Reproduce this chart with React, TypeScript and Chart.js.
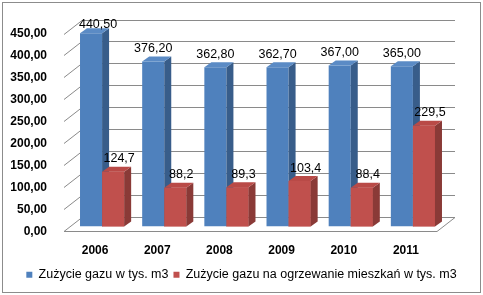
import React, { useEffect, useRef } from "react";
import { Chart, registerables } from "chart.js";

Chart.register(...registerables);

// ---- data ----
const years = ["2006", "2007", "2008", "2009", "2010", "2011"];
const gasTotal = [440.5, 376.2, 362.8, 362.7, 367.0, 365.0];
const gasHeating = [124.7, 88.2, 89.3, 103.4, 88.4, 229.5];
const seriesNames = [
  "Zużycie gazu w tys. m3",
  "Zużycie gazu na ogrzewanie mieszkań w tys. m3",
];
const yMin = 0;
const yMax = 450;
const yStep = 50;
const labelDecimals = [2, 1];

// ---- styles ----
const FONT = "'Liberation Sans', Arial, sans-serif";
const frontColors = ["#4F81BD", "#C0504D"];
const sideColors = ["#385D8A", "#8A3A37"];
const topColors = ["#5B8BC5", "#B94A47"];
const labelShiftX = [0, 6];
const GRID = "#8a8a8a";
const BACK = { x: 11, y: -9.5 };
const FRONT = { x: -7, y: 4.5 };
const DEPTH = { x: 7, y: -5 };

const fmt = (v: number, d: number) => Number(v).toFixed(d).replace(".", ",");

function drawFaces(ctx: any, el: any, i: number) {
  const { x, y, base, width } = el.getProps(["x", "y", "base", "width"], true);
  const l = x - width / 2;
  const r = x + width / 2;
  ctx.fillStyle = sideColors[i];
  ctx.beginPath();
  ctx.moveTo(r, y);
  ctx.lineTo(r + DEPTH.x, y + DEPTH.y);
  ctx.lineTo(r + DEPTH.x, base + DEPTH.y);
  ctx.lineTo(r, base);
  ctx.closePath();
  ctx.fill();
  ctx.fillStyle = topColors[i];
  ctx.beginPath();
  ctx.moveTo(l, y);
  ctx.lineTo(l + DEPTH.x, y + DEPTH.y);
  ctx.lineTo(r + DEPTH.x, y + DEPTH.y);
  ctx.lineTo(r, y);
  ctx.closePath();
  ctx.fill();
}

const pseudo3d = {
  id: "pseudo3d",
  beforeDraw(chart: any) {
    const { ctx, width, height } = chart;
    ctx.save();
    ctx.fillStyle = "#ffffff";
    ctx.fillRect(0, 0, width, height);
    ctx.strokeStyle = "#8c8c8c";
    ctx.lineWidth = 1;
    ctx.strokeRect(2.5, 2.5, width - 5, height - 5);
    ctx.restore();
  },
  beforeDatasetsDraw(chart: any) {
    const { ctx, chartArea: a } = chart;
    const y = chart.scales.y;
    ctx.save();
    ctx.strokeStyle = GRID;
    ctx.lineWidth = 1;
    ctx.beginPath();
    for (const t of y.ticks) {
      const py = y.getPixelForValue(t.value);
      const by = Math.round(py + BACK.y) + 0.5;
      const fy = Math.round(py + FRONT.y) + 0.5;
      ctx.moveTo(a.left + BACK.x, by);
      ctx.lineTo(a.right + BACK.x, by);
      ctx.moveTo(a.left + FRONT.x, fy);
      ctx.lineTo(a.left + BACK.x, by);
    }
    const p0 = y.getPixelForValue(yMin);
    const fy0 = Math.round(p0 + FRONT.y) + 0.5;
    const by0 = Math.round(p0 + BACK.y) + 0.5;
    ctx.moveTo(a.left + FRONT.x, fy0);
    ctx.lineTo(a.right + FRONT.x, fy0);
    ctx.lineTo(a.right + BACK.x, by0);
    ctx.stroke();
    ctx.restore();
  },
  afterDatasetsDraw(chart: any) {
    const { ctx, chartArea } = chart;
    const n = chart.data.datasets.length;
    ctx.save();
    for (let i = 0; i < n; i++) {
      const meta = chart.getDatasetMeta(i);
      if (i > 0) {
        meta.data.forEach((el: any) => el.draw(ctx, chartArea));
      }
      meta.data.forEach((el: any) => drawFaces(ctx, el, i));
    }
    ctx.fillStyle = "#000";
    ctx.font = `12.5px ${FONT}`;
    ctx.textAlign = "center";
    ctx.textBaseline = "middle";
    chart.data.datasets.forEach((ds: any, i: number) => {
      const meta = chart.getDatasetMeta(i);
      meta.data.forEach((el: any, j: number) => {
        const { x, y } = el.getProps(["x", "y"], true);
        let ly = y - 13;
        let lx = x + labelShiftX[i];
        if (ly < chartArea.top - 4) {
          ly = chartArea.top - 4;
          lx += DEPTH.x;
        }
        ctx.fillText(fmt(ds.data[j], labelDecimals[i]), lx, ly);
      });
    });
    ctx.restore();
  },
};

export default function App() {
  const ref = useRef<HTMLCanvasElement | null>(null);
  useEffect(() => {
    if (!ref.current) return;
    Chart.defaults.font.family = FONT;
    const chart = new Chart(ref.current, {
      type: "bar",
      data: {
        labels: years,
        datasets: [
          {
            label: seriesNames[0],
            data: gasTotal,
            backgroundColor: frontColors[0],
            borderWidth: 0,
            categoryPercentage: 0.71,
            barPercentage: 1,
          },
          {
            label: seriesNames[1],
            data: gasHeating,
            backgroundColor: frontColors[1],
            borderWidth: 0,
            categoryPercentage: 0.71,
            barPercentage: 1,
          },
        ],
      },
      options: {
        animation: false,
        responsive: false,
        layout: { padding: { left: 0, right: 0, top: 29, bottom: 4 } },
        plugins: {
          legend: {
            position: "bottom",
            labels: {
              boxWidth: 6,
              boxHeight: 6,
              padding: 5,
              color: "#000",
              font: { size: 12.5, family: FONT },
            },
          },
          tooltip: { enabled: false },
        },
        scales: {
          x: {
            grid: { display: false },
            border: { display: false },
            ticks: {
              labelOffset: -7,
              padding: 9,
              color: "#000",
              maxRotation: 0,
              font: { size: 12, weight: "bold", family: FONT },
            },
            afterFit(s: any) {
              s.height = 37;
            },
          },
          y: {
            min: yMin,
            max: yMax,
            grid: { display: false },
            border: { display: false },
            ticks: {
              stepSize: yStep,
              padding: 16,
              labelOffset: 5,
              color: "#000",
              font: { size: 12, weight: "bold", family: FONT },
              callback: (v: any) => fmt(v, 2),
            },
            afterFit(s: any) {
              s.width = 71;
            },
          },
          y2: {
            position: "right",
            grid: { display: false },
            border: { display: false },
            ticks: { display: false },
            afterFit(s: any) {
              s.width = 39;
            },
          },
        },
      } as any,
      plugins: [pseudo3d as any],
    });
    return () => chart.destroy();
  }, []);
  return (
    <div style={{ position: "fixed", left: 0, top: 0, width: 483, height: 295, background: "#fff" }}>
      <canvas ref={ref} width={483} height={295} style={{ display: "block" }} />
    </div>
  );
}
